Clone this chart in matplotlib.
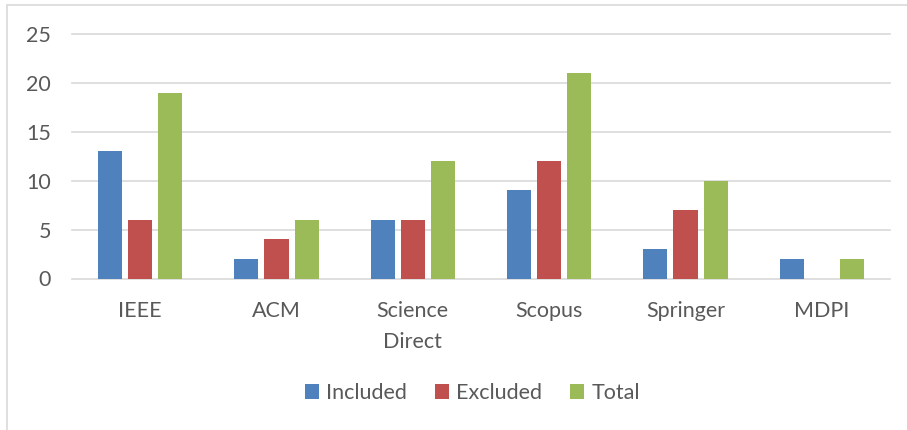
import matplotlib.pyplot as plt
import matplotlib.patches as mpatches
import numpy as np

# data
categories = ["IEEE", "ACM", "Science\nDirect", "Scopus", "Springer", "MDPI"]
included = [13, 2, 6, 9, 3, 2]
excluded = [6, 4, 6, 12, 7, 0]
total = [19, 6, 12, 21, 10, 2]
series_names = ["Included", "Excluded", "Total"]
colors = ["#4F81BD", "#C0504D", "#9BBB59"]

plt.rcParams["font.family"] = ["Lato", "DejaVu Sans"]
text_col = "#595959"
grid_col = "#D9D9D9"
fs = 15.5

fig = plt.figure(figsize=(9.07, 4.3), dpi=100)
ax = fig.add_axes([72 / 907, 1 - 278.5 / 430, (890 - 72) / 907, (278.5 - 34) / 430])

x = np.arange(len(categories))
w = 24 / 136.3
step = 30 / 136.3
for i, (vals, name) in enumerate(zip([included, excluded, total], series_names)):
    ax.bar(x + (i - 1) * step, vals, width=w, color=colors[i], label=name, zorder=3)

ax.set_xlim(-0.5, len(categories) - 0.5)
ax.set_ylim(0, 25)
yt = [0, 5, 10, 15, 20, 25]
ax.set_yticks(yt)
for t in yt:
    ax.axhline(t, color=grid_col, lw=1.2, zorder=1, clip_on=False)

ax.set_xticks(x)
ax.set_xticklabels(categories, fontsize=fs, color=text_col, linespacing=1.7)
ax.tick_params(axis="x", length=0, pad=16)
ax.tick_params(axis="y", length=0, pad=15, labelsize=fs, labelcolor=text_col)
for s in ax.spines.values():
    s.set_visible(False)

# chart border (top/left visible in crop)
fig.patches.append(mpatches.Rectangle((7 / 907, -0.1), 1.2, 1 - 5 / 430 + 0.1,
                                      transform=fig.transFigure, fill=False,
                                      edgecolor=grid_col, lw=1.2))

fig.legend(loc="center", bbox_to_anchor=(0.521, 1 - 393 / 430), ncol=3, frameon=False,
           fontsize=fs, labelcolor=text_col, handlelength=0.65, handleheight=0.65,
           handletextpad=0.35, columnspacing=1.3)

fig.savefig("out.png", dpi=100)
